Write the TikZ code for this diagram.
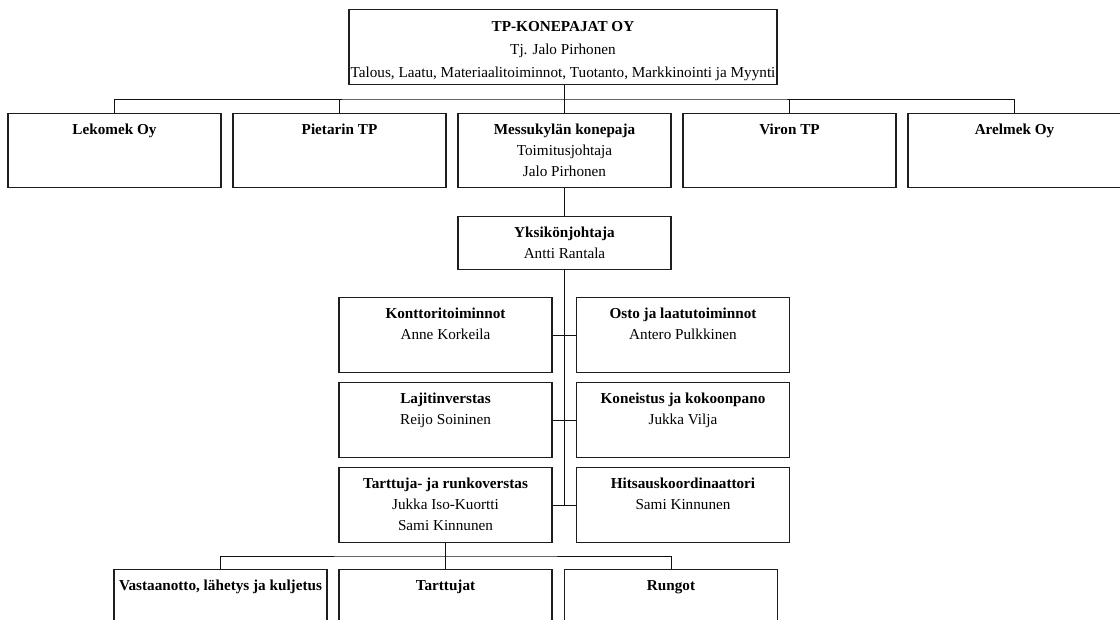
\documentclass[tikz,border=0pt]{standalone}
\usepackage{fontspec}
\setmainfont{Liberation Serif}
\definecolor{BoxLine}{HTML}{1E1E1E}
\definecolor{WireGray}{HTML}{111111}
\newcommand{\cardtext}[1]{\begin{tabular}[t]{@{}c@{}}#1\end{tabular}}

\begin{document}
\begin{tikzpicture}[x=1pt,y=-1pt,
    unit/.style={draw=BoxLine,line width=1.4pt,anchor=north,inner sep=0pt,
      minimum width=213pt,font=\fontsize{15.2}{21}\selectfont,text height=21pt,text depth=54pt},
    firm/.style={unit,text depth=53pt},
    head/.style={unit,text depth=32pt},
    wire/.style={draw=WireGray,line width=1pt}]
    \useasboundingbox (0,0) rectangle (1120,619);
    \clip (0,0) rectangle (1120,619);
    % group level
    \node[unit,minimum width=428pt,font=\fontsize{15.2}{23}\selectfont,text height=22pt,text depth=53pt]
      (group) at (563,9) {\cardtext{\textbf{TP-KONEPAJAT OY}\\Tj. Jalo Pirhonen\\
      Talous, Laatu, Materiaalitoiminnot, Tuotanto, Markkinointi ja Myynti}};
    \node[firm] (lek)   at (114.5,113) {\cardtext{\textbf{Lekomek Oy}}};
    \node[firm] (piet)  at (339.5,113) {\cardtext{\textbf{Pietarin TP}}};
    \node[firm] (mess)  at (564.5,113) {\cardtext{\textbf{Messukylän konepaja}\\Toimitusjohtaja\\Jalo Pirhonen}};
    \node[firm] (viron) at (789.5,113) {\cardtext{\textbf{Viron TP}}};
    \node[firm] (arel)  at (1014.5,113) {\cardtext{\textbf{Arelmek Oy}}};
    \coordinate (topbus) at (565,99);
    \draw[wire] (lek.north) |- (topbus) -| (arel.north);
    \foreach \n in {piet,viron} \draw[wire] (\n.north) -- (\n.north |- topbus);
    \draw[wire] (group.south -| mess.north) -- (mess.north);
    % unit level
    \node[head] (chief) at (564.5,216) {\cardtext{\textbf{Yksikönjohtaja}\\Antti Rantala}};
    \draw[wire] (mess.south) -- (chief.north);
    \node[unit] (office)  at (445.5,297) {\cardtext{\textbf{Konttoritoiminnot}\\Anne Korkeila}};
    \node[unit] (purch)   at (683,297)   {\cardtext{\textbf{Osto ja laatutoiminnot}\\Antero Pulkkinen}};
    \node[unit] (sorter)  at (445.5,382) {\cardtext{\textbf{Lajitinverstas}\\Reijo Soininen}};
    \node[unit] (machine) at (683,382)   {\cardtext{\textbf{Koneistus ja kokoonpano}\\Jukka Vilja}};
    \node[unit] (tart)    at (445.5,467) {\cardtext{\textbf{Tarttuja- ja runkoverstas}\\Jukka Iso-Kuortti\\Sami Kinnunen}};
    \node[unit] (weld)    at (683,467)   {\cardtext{\textbf{Hitsauskoordinaattori}\\Sami Kinnunen}};
    \draw[wire] (chief.south) -- (chief.south |- tart.east);
    \draw[wire] (office.east) -- (purch.west);
    \draw[wire] (sorter.east) -- (machine.west);
    \draw[wire] (tart.east) -- (weld.west);
    % workshop level
    \node[unit] (recv)   at (220.5,569) {\cardtext{\textbf{Vastaanotto, lähetys ja kuljetus}}};
    \node[unit] (grip)   at (445.5,569) {\cardtext{\textbf{Tarttujat}}};
    \node[unit] (frames) at (671,569)   {\cardtext{\textbf{Rungot}}};
    \coordinate (lowbus) at (445.5,556);
    \draw[wire] (tart.south) -- (grip.north);
    \draw[wire] (recv.north) |- (lowbus) -| (frames.north);
\end{tikzpicture}
\end{document}
